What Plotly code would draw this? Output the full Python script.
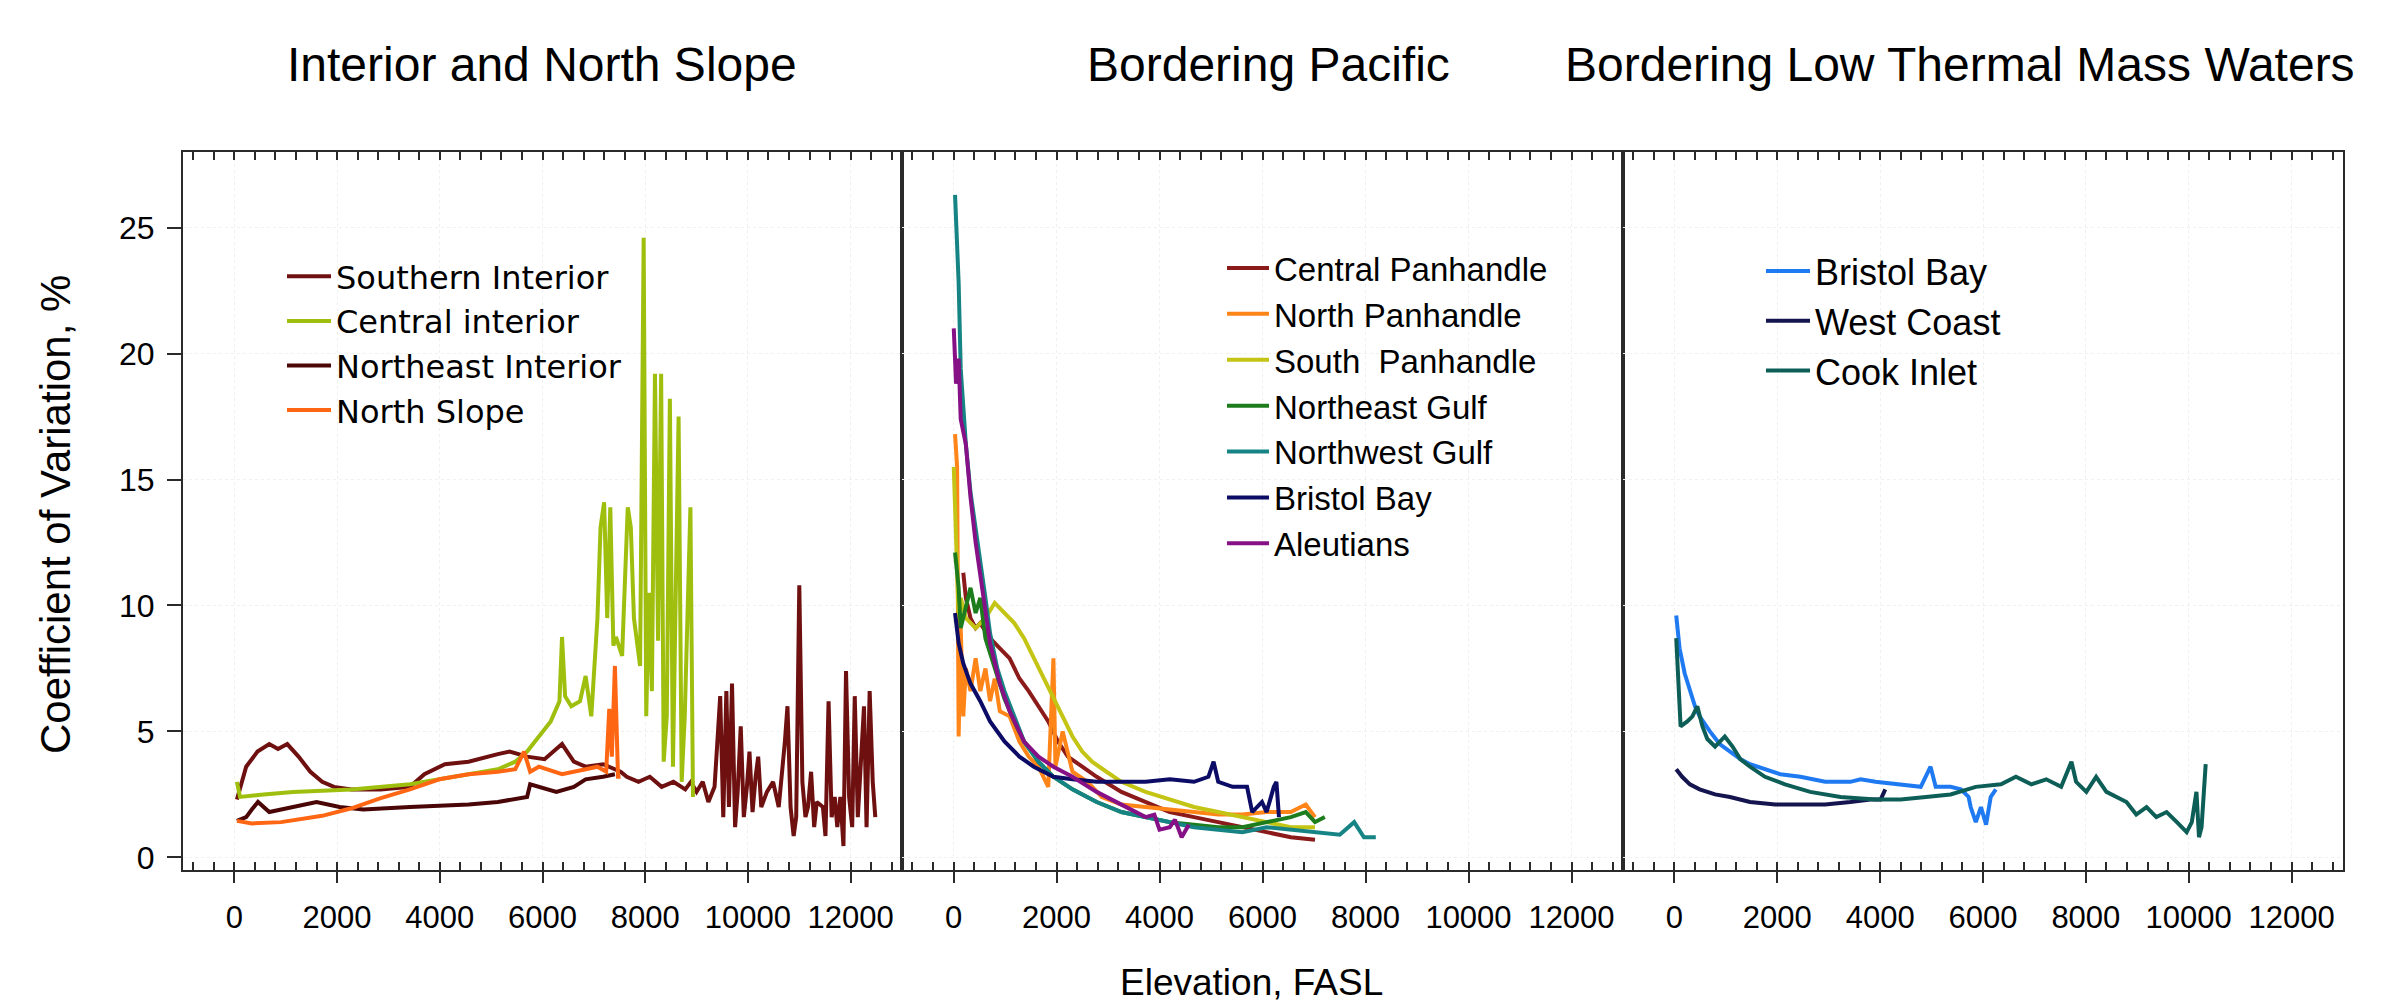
import plotly.graph_objects as go

# ---------------- data (elevation ft, coefficient of variation %) ----------------
SOUTHERN_INTERIOR = [(50, 2.3), (230, 3.6), (450, 4.2), (680, 4.5), (850, 4.3), (1030, 4.5), (1250, 4.0),
                     (1480, 3.4), (1710, 3.0), (1940, 2.8), (2280, 2.7), (2850, 2.7), (3420, 2.8), (3700, 3.3),
                     (4100, 3.7), (4560, 3.8), (5130, 4.1), (5360, 4.2), (5700, 4.0), (6040, 3.9), (6380, 4.5),
                     (6610, 3.8), (6840, 3.6), (7180, 3.7), (7520, 3.4), (7640, 3.2), (7870, 3.0), (8090, 3.2),
                     (8320, 2.8), (8550, 3.0), (8780, 2.7), (8890, 3.0), (9000, 2.6), (9120, 3.0), (9230, 2.2),
                     (9350, 2.8), (9460, 6.4), (9520, 1.6), (9580, 6.6), (9630, 2.0), (9690, 6.9), (9750, 1.2),
                     (9800, 2.6), (9860, 5.2), (9920, 1.6), (9980, 2.8), (10030, 4.2), (10090, 1.8), (10150, 3.2),
                     (10200, 4.0), (10260, 2.0), (10370, 2.6), (10490, 3.0), (10600, 2.0), (10720, 4.6),
                     (10770, 6.0), (10830, 2.0), (10890, 0.85), (10940, 1.6), (11000, 10.8), (11060, 3.0),
                     (11120, 1.6), (11170, 2.0), (11230, 3.4), (11290, 1.2), (11340, 2.2), (11460, 2.0),
                     (11510, 0.85), (11570, 6.2), (11630, 1.6), (11690, 2.4), (11740, 1.2), (11800, 2.4),
                     (11860, 0.45), (11910, 7.4), (11970, 2.4), (12030, 1.2), (12080, 6.4), (12140, 1.6),
                     (12200, 3.6), (12260, 6.0), (12310, 1.2), (12370, 6.6), (12430, 3.0), (12480, 1.6)]
CENTRAL_INTERIOR = [(50, 3.0), (110, 2.4), (570, 2.5), (1140, 2.6), (2280, 2.7), (3420, 2.9), (4560, 3.3),
                    (5130, 3.5), (5470, 3.8), (5700, 4.2), (5930, 4.8), (6160, 5.4), (6330, 6.2), (6380, 8.75),
                    (6440, 6.4), (6560, 6.0), (6730, 6.2), (6840, 7.2), (6950, 5.6), (7070, 9.5), (7130, 13.1),
                    (7200, 14.1), (7260, 9.5), (7320, 13.9), (7380, 8.4), (7430, 8.75), (7550, 8.0), (7660, 13.9),
                    (7720, 13.1), (7780, 9.5), (7900, 7.6), (7970, 24.6), (8020, 5.6), (8070, 10.5), (8130, 6.6),
                    (8190, 19.2), (8250, 8.6), (8310, 19.2), (8360, 3.8), (8420, 5.6), (8480, 18.2), (8540, 3.6),
                    (8650, 17.5), (8710, 3.0), (8770, 5.6), (8880, 13.9), (8930, 2.4)]
NORTHEAST_INTERIOR = [(50, 1.45), (230, 1.6), (340, 1.9), (460, 2.2), (680, 1.8), (1140, 2.0), (1600, 2.2),
                      (2050, 2.0), (2510, 1.9), (3420, 2.0), (4560, 2.1), (5130, 2.2), (5470, 2.3), (5700, 2.4),
                      (5760, 2.9), (6270, 2.6), (6610, 2.8), (6840, 3.1), (7180, 3.2), (7410, 3.3)]
NORTH_SLOPE = [(50, 1.45), (340, 1.35), (910, 1.4), (1710, 1.65), (2280, 1.95), (2850, 2.35), (3420, 2.7),
               (3990, 3.1), (4560, 3.3), (5130, 3.4), (5470, 3.5), (5640, 4.2), (5700, 3.8), (5760, 3.4),
               (5930, 3.6), (6380, 3.3), (6840, 3.5), (7070, 3.6), (7240, 3.4), (7300, 5.9), (7350, 4.0),
               (7410, 7.6), (7470, 3.2), (7520, 3.2)]

CENTRAL_PANHANDLE = [(190, 11.3), (240, 10.3), (330, 9.5), (430, 9.1), (520, 9.3), (710, 8.7), (900, 8.3),
                     (1090, 7.9), (1280, 7.1), (1460, 6.6), (1650, 6.0), (1840, 5.4), (2030, 4.6), (2220, 4.0),
                     (2500, 3.6), (2780, 3.2), (3260, 2.6), (3730, 2.2), (4200, 1.8), (4670, 1.6), (5140, 1.4),
                     (5610, 1.2), (6080, 1.0), (6550, 0.8), (7020, 0.7)]
NORTH_PANHANDLE = [(30, 16.8), (70, 15.5), (100, 4.8), (140, 9.1), (190, 5.6), (240, 7.5), (330, 6.6),
                   (430, 7.9), (520, 6.6), (620, 7.5), (710, 6.2), (800, 7.1), (900, 5.8), (1090, 5.6),
                   (1280, 4.6), (1460, 4.0), (1650, 3.6), (1840, 2.8), (1940, 7.9), (1980, 3.6), (2120, 5.0),
                   (2310, 3.4), (2600, 3.0), (2880, 2.4), (3260, 2.1), (3730, 2.0), (4200, 1.9), (4670, 1.8),
                   (5140, 1.7), (5610, 1.7), (6080, 1.8), (6550, 1.8), (6840, 2.1), (7020, 1.6)]
SOUTH_PANHANDLE = [(5, 15.5), (50, 12.5), (100, 9.5), (140, 10.3), (240, 9.5), (430, 9.1), (620, 9.5),
                   (800, 10.1), (990, 9.7), (1180, 9.3), (1370, 8.7), (1560, 7.9), (1750, 7.1), (1940, 6.3),
                   (2120, 5.6), (2310, 4.8), (2500, 4.2), (2690, 3.8), (2970, 3.4), (3260, 3.0), (3730, 2.6),
                   (4200, 2.3), (4670, 2.0), (5140, 1.8), (5610, 1.6), (6080, 1.4), (6550, 1.2), (7020, 1.2)]
NORTHEAST_GULF = [(30, 12.1), (100, 10.7), (140, 9.1), (240, 9.9), (330, 10.7), (430, 9.7), (520, 10.3),
                  (620, 8.7), (800, 7.5), (990, 6.3), (1180, 5.4), (1370, 4.6), (1650, 3.8), (1940, 3.2),
                  (2310, 2.7), (2780, 2.2), (3260, 1.8), (3730, 1.6), (4200, 1.4), (4670, 1.3), (5140, 1.2),
                  (5610, 1.2), (6080, 1.4), (6550, 1.6), (6840, 1.8), (7020, 1.4), (7210, 1.6)]
NORTHWEST_GULF = [(30, 26.3), (100, 22.8), (140, 19.4), (240, 16.4), (330, 14.5), (430, 13.1), (520, 11.9),
                  (620, 10.3), (710, 8.9), (850, 7.5), (990, 6.6), (1180, 5.6), (1370, 4.6), (1650, 3.8),
                  (1940, 3.2), (2310, 2.7), (2780, 2.2), (3260, 1.8), (3730, 1.6), (4200, 1.4), (4670, 1.2),
                  (5140, 1.1), (5610, 1.0), (6080, 1.2), (6550, 1.1), (7020, 1.0), (7500, 0.9), (7780, 1.4),
                  (7970, 0.8), (8200, 0.8)]
BRISTOL_BAY_PACIFIC = [(30, 9.7), (100, 8.5), (190, 7.7), (330, 6.9), (520, 6.2), (710, 5.4), (990, 4.6),
                       (1280, 4.0), (1560, 3.6), (1940, 3.2), (2310, 3.1), (2780, 3.0), (3260, 3.0), (3730, 3.0),
                       (4200, 3.1), (4670, 3.0), (4950, 3.2), (5050, 3.8), (5140, 3.0), (5420, 2.8), (5700, 2.8),
                       (5800, 1.8), (5990, 2.2), (6080, 1.8), (6220, 2.8), (6270, 3.0), (6320, 1.6)]
ALEUTIANS = [(5, 21.0), (50, 18.8), (100, 19.8), (140, 17.4), (240, 16.4), (330, 14.3), (430, 12.5),
             (570, 10.5), (710, 8.5), (900, 6.9), (1090, 5.8), (1370, 4.6), (1650, 4.0), (1940, 3.6),
             (2310, 3.2), (2780, 2.6), (3260, 2.1), (3730, 1.6), (3900, 1.7), (4000, 1.1), (4200, 1.2),
             (4300, 1.5), (4430, 0.8), (4570, 1.3)]

BRISTOL_BAY_LTM = [(35, 9.6), (100, 8.3), (200, 7.3), (300, 6.6), (400, 6.0), (490, 5.6), (690, 5.0),
                   (880, 4.5), (1080, 4.2), (1280, 3.9), (1470, 3.7), (1760, 3.5), (2060, 3.3), (2450, 3.2),
                   (2930, 3.0), (3420, 3.0), (3620, 3.1), (3910, 3.0), (4400, 2.9), (4790, 2.8), (4980, 3.6),
                   (5080, 2.8), (5370, 2.8), (5570, 2.7), (5720, 2.4), (5760, 2.0), (5860, 1.4), (5960, 2.0),
                   (6060, 1.3), (6150, 2.4), (6250, 2.7)]
WEST_COAST = [(35, 3.5), (150, 3.2), (300, 2.9), (490, 2.7), (790, 2.5), (1080, 2.4), (1470, 2.2), (1960, 2.1),
              (2450, 2.1), (2930, 2.1), (3420, 2.2), (3810, 2.3), (4010, 2.3), (4100, 2.7)]
COOK_INLET = [(35, 8.7), (75, 7.2), (120, 5.2), (250, 5.4), (350, 5.6), (445, 6.0), (545, 5.2), (640, 4.7),
              (790, 4.4), (980, 4.8), (1130, 4.4), (1280, 3.9), (1470, 3.6), (1760, 3.2), (2150, 2.9),
              (2640, 2.6), (3230, 2.4), (3910, 2.3), (4400, 2.3), (4890, 2.4), (5370, 2.5), (5860, 2.8),
              (6350, 2.9), (6640, 3.2), (6940, 2.9), (7230, 3.1), (7520, 2.8), (7720, 3.8), (7810, 3.0),
              (8010, 2.6), (8200, 3.2), (8400, 2.6), (8590, 2.4), (8790, 2.2), (8980, 1.7), (9180, 2.0),
              (9370, 1.6), (9570, 1.8), (9770, 1.4), (9960, 1.0), (10060, 1.4), (10150, 2.6), (10200, 0.8),
              (10250, 1.2), (10330, 3.7)]

PANEL_TITLES = ["Interior and North Slope", "Bordering Pacific", "Bordering Low Thermal Mass Waters"]
X_TICKS = [0, 2000, 4000, 6000, 8000, 10000, 12000]
X_TICK_TEXT = ["0", "2000", "4000", "6000", "8000", "10000", "12000"]
Y_TICKS = [0, 5, 10, 15, 20, 25]

# (name, data, colour, panel)
SERIES = [
    ("Southern Interior", SOUTHERN_INTERIOR, "#6e1010", 1),
    ("Central interior", CENTRAL_INTERIOR, "#9fbf0f", 1),
    ("Northeast Interior", NORTHEAST_INTERIOR, "#4a0606", 1),
    ("North Slope", NORTH_SLOPE, "#ff6614", 1),
    ("Central Panhandle", CENTRAL_PANHANDLE, "#8b1a1a", 2),
    ("North Panhandle", NORTH_PANHANDLE, "#ff8519", 2),
    ("South  Panhandle", SOUTH_PANHANDLE, "#c4c414", 2),
    ("Northeast Gulf", NORTHEAST_GULF, "#1d7d1d", 2),
    ("Northwest Gulf", NORTHWEST_GULF, "#168484", 2),
    ("Bristol Bay", BRISTOL_BAY_PACIFIC, "#0c0c66", 2),
    ("Aleutians", ALEUTIANS, "#861086", 2),
    ("Bristol Bay", BRISTOL_BAY_LTM, "#1f7af2", 3),
    ("West Coast", WEST_COAST, "#14144e", 3),
    ("Cook Inlet", COOK_INLET, "#0e5e58", 3),
]

FONT = "Liberation Sans, Arial, Helvetica, sans-serif"
FRAME = "#2a2a2a"

fig = go.Figure()
for name, data, color, panel in SERIES:
    sfx = "" if panel == 1 else str(panel)
    fig.add_trace(go.Scatter(
        x=[p[0] for p in data], y=[p[1] for p in data], mode="lines", name=name,
        line=dict(color=color, width=4), xaxis="x" + sfx, yaxis="y" + sfx,
        legend="legend" + sfx, showlegend=True))

# empty traces for the top tick axes
for k in (4, 5, 6):
    fig.add_trace(go.Scatter(x=[], y=[], xaxis=f"x{k}", yaxis="y" if k == 4 else f"y{k-3}",
                             showlegend=False, hoverinfo="skip"))

# the page body has an 8px margin, so the figure is 8px smaller and everything shifted by 8px
W, H = 2379, 1000
ML, MR, MT, MB = 175, 44, 144, 138
PW, PH = 2160, 718
PX0, PY1 = 183, 870   # plot-area left / bottom on the page


def px(page_x):
    return (page_x - PX0) / PW


def py(page_y):
    return (PY1 - page_y) / PH


domains = [[0.0, 719 / PW], [719 / PW, 1440 / PW], [1440 / PW, 1.0]]
XR = [-1000, 13000]
YR = [-0.5, 28]

layout = dict(
    width=W, height=H, margin=dict(l=ML, r=MR, t=MT, b=MB),
    paper_bgcolor="white", plot_bgcolor="white",
    font=dict(family=FONT, color="black"),
    hovermode=False,
)
for i in range(3):
    sfx = "" if i == 0 else str(i + 1)
    layout["xaxis" + sfx] = dict(
        domain=domains[i], range=XR, anchor="y" + sfx,
        tickvals=X_TICKS, ticktext=X_TICK_TEXT, ticks="outside", ticklen=11, tickwidth=2, tickcolor=FRAME,
        tickfont=dict(size=31, family=FONT), ticklabelstandoff=8,
        showline=True, linecolor=FRAME, linewidth=2, mirror=True,
        showgrid=True, gridcolor="#f0f0f0", griddash="dot", gridwidth=1, zeroline=False,
        minor=dict(tick0=0, dtick=400, ticks="inside", ticklen=8, tickwidth=2, tickcolor=FRAME, showgrid=False),
    )
    layout["yaxis" + sfx] = dict(
        domain=[0, 1], range=YR, anchor="x" + sfx,
        tickvals=Y_TICKS, ticks="outside" if i == 0 else "", ticklen=14, tickwidth=2, tickcolor=FRAME,
        showticklabels=(i == 0), tickfont=dict(size=32, family=FONT), ticklabelstandoff=6,
        showline=True, linecolor=FRAME, linewidth=2, mirror=True,
        showgrid=True, gridcolor="#f0f0f0", griddash="dot", gridwidth=1, zeroline=False,
    )
    if i > 0:
        layout["yaxis" + sfx]["matches"] = "y"
    # top axis carrying the inward minor ticks
    layout[f"xaxis{i + 4}"] = dict(
        overlaying="x" + sfx, side="top", anchor="y" + sfx, range=XR,
        tick0=0, dtick=400, ticks="inside", ticklen=8, tickwidth=2, tickcolor=FRAME,
        showticklabels=False, showgrid=False, showline=False, zeroline=False,
    )

leg_common = dict(bgcolor="rgba(0,0,0,0)", borderwidth=0, tracegroupgap=0,
                  xanchor="left", yanchor="top", orientation="v")
layout["legend"] = dict(leg_common, x=px(282), y=py(249), itemwidth=44,
                        font=dict(size=32, family="DejaVu Sans, Liberation Sans, Arial"))
layout["legend2"] = dict(leg_common, x=px(1222), y=py(240), itemwidth=42,
                         font=dict(size=33, family=FONT))
layout["legend3"] = dict(leg_common, x=px(1761), y=py(241), itemwidth=44,
                         font=dict(size=36, family=FONT))

fig.update_layout(**layout)

title_font = dict(size=48, family=FONT, color="black")
TY = py(64)
fig.add_annotation(text=PANEL_TITLES[0], xref="paper", yref="paper", x=px(542), y=TY,
                   xanchor="center", yanchor="middle", showarrow=False, font=title_font)
fig.add_annotation(text=PANEL_TITLES[1], xref="paper", yref="paper", x=px(1268), y=TY,
                   xanchor="center", yanchor="middle", showarrow=False, font=title_font)
fig.add_annotation(text=PANEL_TITLES[2], xref="paper", yref="paper", x=px(1563), y=TY,
                   xanchor="left", yanchor="middle", showarrow=False, font=title_font)
fig.add_annotation(text="Elevation, FASL", xref="paper", yref="paper", x=px(1251),
                   y=py(982), xanchor="center", yanchor="middle", showarrow=False,
                   font=dict(size=37, family=FONT, color="black"))
fig.add_annotation(text="Coefficient of Variation, %", xref="paper", yref="paper", x=px(55),
                   y=py(515), xanchor="center", yanchor="middle", textangle=-90, showarrow=False,
                   font=dict(size=42, family=FONT, color="black"))

fig.write_html("out.html")
